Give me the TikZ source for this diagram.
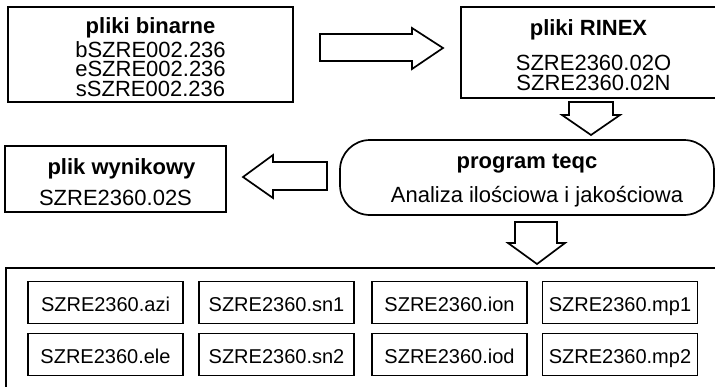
\documentclass[tikz,border=0pt]{standalone}
\usepackage{fontspec}
\setmainfont{Liberation Sans}
\begin{document}
\begin{tikzpicture}[x=1pt,y=-1pt,
  box/.style={draw, line width=1.7pt, inner sep=0pt, align=center},
  txt/.style={inner sep=0pt, align=center},
  blockarrow/.style={draw, line width=1.7pt, line join=miter, fill=white},
  big/.style={font=\fontsize{22}{19.5}\selectfont},
  small/.style={font=\fontsize{20}{22}\selectfont},
  filebox/.style={box, small, minimum width=155pt, minimum height=42pt, text height=18.5pt, text depth=0pt}]
\useasboundingbox (0,0) rectangle (715,386);
\fill[white] (0,0) rectangle (715,386);
% top boxes
\node[box, minimum width=285pt, minimum height=95pt] (bin) at (150.5,54.5) {};
\node[txt, big] (binT) at ([yshift=-2.5pt]bin.center)
  {\textbf{pliki binarne}\\[2pt] bSZRE002.236\\eSZRE002.236\\sSZRE002.236};
\node[box, minimum width=255pt, minimum height=91pt] (rinex) at (588.5,52.5) {};
\node[txt, big] (rinexT) at ([yshift=-2.5pt]rinex.center)
  {\textbf{pliki RINEX}\\[14.5pt]\hspace*{10pt}SZRE2360.02O\\\hspace*{10pt}SZRE2360.02N};
% middle
\node[box, minimum width=221pt, minimum height=66pt] (wynik) at (115.5,179) {};
\node[txt, big] (wynikT) at ([yshift=-3pt]wynik.center)
  {\hspace*{12pt}\textbf{plik wynikowy}\\[10.5pt]SZRE2360.02S};
\node[box, rounded corners=30pt, minimum width=374pt, minimum height=75pt] (teqc) at (527,177.5) {};
\node[txt, big] (teqcT) at ([yshift=-3pt]teqc.center)
  {\textbf{program teqc}\\[12.5pt]\hspace*{20pt}Analiza ilościowa i jakościowa};
% bottom
\node[box, minimum width=710pt, minimum height=120pt] (outer) at (361,328) {};
\node[filebox] (azi) at (105.5,302.5) {SZRE2360.azi};
\node[filebox] (sn1) at (276.5,302.5) {SZRE2360.sn1};
\node[filebox] (ion) at (449.5,302.5) {SZRE2360.ion};
\node[filebox] (mp1) at (620,302.5) {SZRE2360.mp1};
\node[filebox] (ele) at (105.5,354.5) {SZRE2360.ele};
\node[filebox] (sn2) at (276.5,354.5) {SZRE2360.sn2};
\node[filebox] (iod) at (449.5,354.5) {SZRE2360.iod};
\node[filebox] (mp2) at (620,354.5) {SZRE2360.mp2};
% block arrows
\draw[blockarrow] (320,34) -- (412,34) -- (412,28) -- (443,48) -- (412,69) -- (412,61) -- (320,61) -- cycle;
\draw[blockarrow] (569,102) -- (613,102) -- (613,115) -- (620,115) -- (591,135) -- (562,115) -- (569,115) -- cycle;
\draw[blockarrow] (327,162) -- (273,162) -- (273,155) -- (243,177) -- (273,198) -- (273,190) -- (327,190) -- cycle;
\draw[blockarrow] (515,222) -- (557,222) -- (557,243) -- (565,243) -- (537,264) -- (508,243) -- (515,243) -- cycle;
\end{tikzpicture}
\end{document}
